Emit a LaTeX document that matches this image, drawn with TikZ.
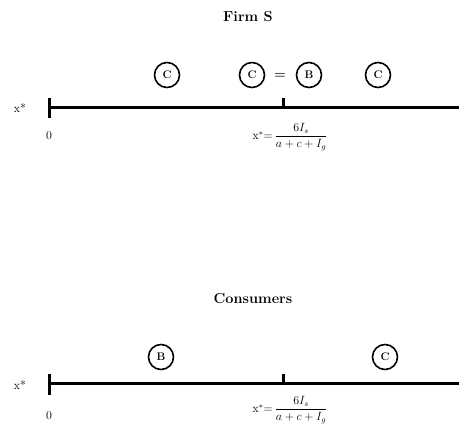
\documentclass[tikz,border=0pt]{standalone}
\usepackage{amsmath}
\begin{document}
\begin{tikzpicture}[x=1pt,y=-1pt,
  title/.style={font=\fontsize{14.5}{16}\selectfont\bfseries},
  lbl/.style={font=\fontsize{12}{14}\selectfont},
  circ/.style={draw,circle,line width=1.6pt,minimum size=25pt,inner sep=0pt,font=\fontsize{11}{12}\selectfont\bfseries},
  axis/.style={line width=3pt},
  formula/.style={font=\fontsize{12}{14}\selectfont}]
\useasboundingbox (0,0) rectangle (459,430);
% Firm S
\node[title] (t1) at (248,17) {Firm S};
\node[circ] (c1) at (167,75) {C};
\node[circ] (c2) at (252,75) {C};
\node[font=\fontsize{13}{14}\selectfont\bfseries] (eq1) at (280,76) {=};
\node[circ] (b1) at (309,75) {B};
\node[circ] (c3) at (378,75) {C};
\coordinate (a1s) at (49,108);
\coordinate (a1e) at (459,108);
\coordinate (t1a) at (49,98);
\coordinate (t1b) at (49,118);
\coordinate (m1a) at (283,98);
\coordinate (m1b) at (283,108);
\draw[axis] (a1s) -- (a1e);
\draw[axis] (t1a) -- (t1b);
\draw[axis] (m1a) -- (m1b);
\node[lbl] (xs1) at (20,108) {x*};
\node[lbl] (z1) at (49,136) {0};
\node[formula] (f1) at (290,137) {x$^*$=\,$\dfrac{6I_s}{a+c+I_g}$};
% Consumers
\node[title] (t2) at (253,299) {Consumers};
\node[circ] (b2) at (161,357) {B};
\node[circ] (c4) at (385,357) {C};
\coordinate (a2s) at (49,384);
\coordinate (a2e) at (459,384);
\coordinate (t2a) at (49,374);
\coordinate (t2b) at (49,395);
\coordinate (m2a) at (283,374);
\coordinate (m2b) at (283,384);
\draw[axis] (a2s) -- (a2e);
\draw[axis] (t2a) -- (t2b);
\draw[axis] (m2a) -- (m2b);
\node[lbl] (xs2) at (20,385) {x*};
\node[lbl] (z2) at (49,416) {0};
\node[formula] (f2) at (290,410) {x$^*$=\,$\dfrac{6I_s}{a+c+I_g}$};
\end{tikzpicture}
\end{document}
